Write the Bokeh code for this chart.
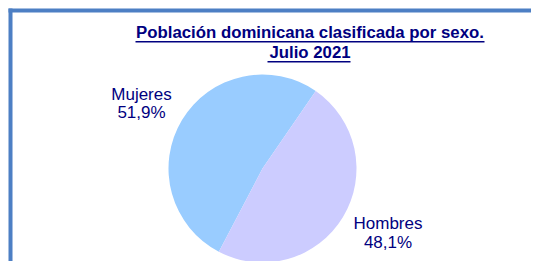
import math
from bokeh.plotting import figure
from bokeh.models import Label, BoxAnnotation, Range1d, ColumnDataSource
from bokeh.embed import file_html
from bokeh.resources import INLINE

# ---- data ----
categories = ["Mujeres", "Hombres"]
shares = [51.9, 48.1]
share_labels = ["51,9%", "48,1%"]
colors = ["#99CCFF", "#CCCCFF"]
title_lines = ["Población dominicana clasificada por sexo.", "Julio 2021"]

W, H = 531, 261
TEXT = "#000080"
FONT = "Liberation Sans"
BASE_FIX = 7  # label baseline calibration (px)


def Y(top):  # pixel distance from top -> data y
    return H - top


p = figure(width=W, height=H, output_backend="svg", toolbar_location=None,
           x_range=Range1d(0, W), y_range=Range1d(0, H), min_border=0,
           background_fill_color="white", border_fill_color="white")
p.axis.visible = False
p.grid.visible = False
p.outline_line_color = None

BORDER = "#4D7FC4"
p.add_layout(BoxAnnotation(left=8, right=12, bottom=0, top=Y(8),
                           fill_color=BORDER, fill_alpha=1, line_color=None))
p.add_layout(BoxAnnotation(left=8, right=W, bottom=Y(12), top=Y(8),
                           fill_color=BORDER, fill_alpha=1, line_color=None))

# pie
cx, cy, r = 262, Y(168), 94
start0 = math.radians(55.5)
total = sum(shares)
starts, ends = [], []
a = start0
for s in shares:
    starts.append(a)
    a += s / total * 2 * math.pi
    ends.append(a)
src = ColumnDataSource(dict(cat=categories, start=starts, end=ends, color=colors))
p.wedge(x=cx, y=cy, radius=r, start_angle="start", end_angle="end",
        direction="anticlock", fill_color="color", line_color=None, source=src)


def text(x, top, s, size, bold=False):
    p.add_layout(Label(x=x, y=Y(top - BASE_FIX), text=s, text_align="center",
                       text_baseline="alphabetic", text_font=FONT,
                       text_font_style="bold" if bold else "normal",
                       text_font_size=size, text_color=TEXT))


# slice labels
label_pos = [(141, 100.5), (387.5, 230)]
for (lx, lt), name, pct in zip(label_pos, categories, share_labels):
    text(lx, lt, name, "17px")
    text(lx, lt + 18.5, pct, "17px")

# title
tx = 309.5
text(tx, 38.5, title_lines[0], "16.8px", bold=True)
text(tx, 58.5, title_lines[1], "16.8px", bold=True)
# underlines
p.add_layout(BoxAnnotation(left=135, right=484, bottom=Y(42), top=Y(40.5),
                           fill_color=TEXT, fill_alpha=1, line_color=None))
p.add_layout(BoxAnnotation(left=267, right=350, bottom=Y(62), top=Y(60.5),
                           fill_color=TEXT, fill_alpha=1, line_color=None))

open("out.html", "w").write(file_html(p, INLINE))
